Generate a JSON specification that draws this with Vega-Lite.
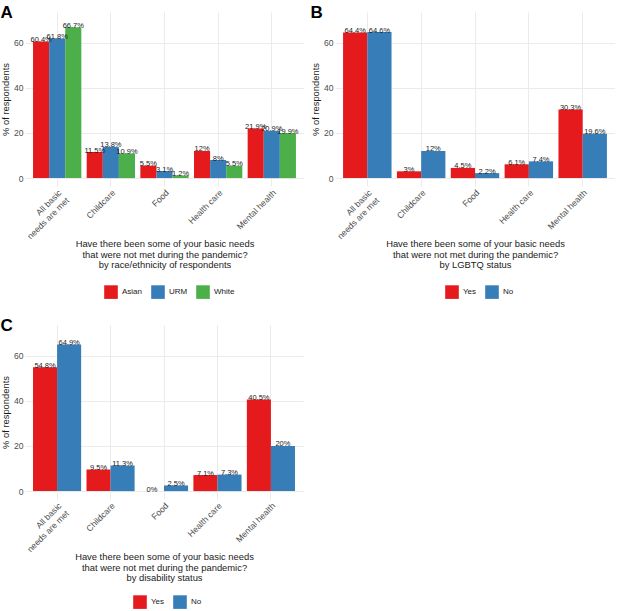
{
  "$schema": "https://vega.github.io/schema/vega-lite/v6.json",
  "description": "Unmet basic needs during the pandemic, by race/ethnicity, LGBTQ status and disability status.",
  "padding": {"top": 4, "left": 0, "right": 0, "bottom": 0},
  "spacing": 18,
  "vconcat": [
    {
      "spacing": 6,
      "hconcat": [
        {
          "title": {"text": "A", "offset": -10},
          "width": 279,
          "height": 174,
          "data": {
            "values": [
              {"need": "All basic needs are met", "group": "Asian", "pct": 60.4},
              {"need": "All basic needs are met", "group": "URM", "pct": 61.8},
              {"need": "All basic needs are met", "group": "White", "pct": 66.7},
              {"need": "Childcare", "group": "Asian", "pct": 11.5},
              {"need": "Childcare", "group": "URM", "pct": 13.8},
              {"need": "Childcare", "group": "White", "pct": 10.9},
              {"need": "Food", "group": "Asian", "pct": 5.5},
              {"need": "Food", "group": "URM", "pct": 3.1},
              {"need": "Food", "group": "White", "pct": 1.2},
              {"need": "Health care", "group": "Asian", "pct": 12},
              {"need": "Health care", "group": "URM", "pct": 8},
              {"need": "Health care", "group": "White", "pct": 5.5},
              {"need": "Mental health", "group": "Asian", "pct": 21.9},
              {"need": "Mental health", "group": "URM", "pct": 20.9},
              {"need": "Mental health", "group": "White", "pct": 19.9}
            ]
          },
          "transform": [{"calculate": "format(datum.pct, '.1~f') + '%'", "as": "label"}],
          "encoding": {
            "x": {
              "field": "need", "type": "nominal",
              "sort": ["All basic needs are met", "Childcare", "Food", "Health care", "Mental health"],
              "scale": {"paddingInner": 0.1, "paddingOuter": 0.15},
              "axis": {"title": ["Have there been some of your basic needs", "that were not met during the pandemic?", "by race/ethnicity of respondents"]}
            },
            "xOffset": {"field": "group", "type": "nominal", "sort": ["Asian", "URM", "White"], "scale": {"paddingInner": 0, "paddingOuter": 0}},
            "y": {
              "field": "pct", "type": "quantitative",
              "scale": {"domain": [-3.5, 73.5], "nice": false, "zero": false},
              "axis": {"title": "% of respondents"}
            }
          },
          "layer": [
            {
              "mark": {"type": "bar"},
              "encoding": {
                "color": {
                  "field": "group", "type": "nominal",
                  "scale": {"domain": ["Asian", "URM", "White"], "range": ["#E41A1C", "#377EB8", "#4DAF4A"]},
                  "legend": {"orient": "none", "legendX": 79, "legendY": 273, "direction": "horizontal", "title": null}
                }
              }
            },
            {
              "mark": {"type": "text", "baseline": "alphabetic", "dy": 0.5, "fontSize": 7.5, "color": "#1A1A1A"},
              "encoding": {"text": {"field": "label", "type": "nominal"}}
            }
          ]
        },
        {
          "title": {"text": "B", "offset": -10},
          "width": 280,
          "height": 174,
          "data": {
            "values": [
              {"need": "All basic needs are met", "group": "Yes", "pct": 64.4},
              {"need": "All basic needs are met", "group": "No", "pct": 64.6},
              {"need": "Childcare", "group": "Yes", "pct": 3},
              {"need": "Childcare", "group": "No", "pct": 12},
              {"need": "Food", "group": "Yes", "pct": 4.5},
              {"need": "Food", "group": "No", "pct": 2.2},
              {"need": "Health care", "group": "Yes", "pct": 6.1},
              {"need": "Health care", "group": "No", "pct": 7.4},
              {"need": "Mental health", "group": "Yes", "pct": 30.3},
              {"need": "Mental health", "group": "No", "pct": 19.6}
            ]
          },
          "transform": [{"calculate": "format(datum.pct, '.1~f') + '%'", "as": "label"}],
          "encoding": {
            "x": {
              "field": "need", "type": "nominal",
              "sort": ["All basic needs are met", "Childcare", "Food", "Health care", "Mental health"],
              "scale": {"paddingInner": 0.1, "paddingOuter": 0.15},
              "axis": {"title": ["Have there been some of your basic needs", "that were not met during the pandemic?", "by LGBTQ status"]}
            },
            "xOffset": {"field": "group", "type": "nominal", "sort": ["Yes", "No"], "scale": {"paddingInner": 0, "paddingOuter": 0}},
            "y": {
              "field": "pct", "type": "quantitative",
              "scale": {"domain": [-3.5, 73.5], "nice": false, "zero": false},
              "axis": {"title": "% of respondents"}
            }
          },
          "layer": [
            {
              "mark": {"type": "bar"},
              "encoding": {
                "color": {
                  "field": "group", "type": "nominal",
                  "scale": {"domain": ["Yes", "No"], "range": ["#E41A1C", "#377EB8"]},
                  "legend": {"orient": "none", "legendX": 110, "legendY": 273, "direction": "horizontal", "title": null}
                }
              }
            },
            {
              "mark": {"type": "text", "baseline": "alphabetic", "dy": 0.5, "fontSize": 7.5, "color": "#1A1A1A"},
              "encoding": {"text": {"field": "label", "type": "nominal"}}
            }
          ]
        }
      ],
      "resolve": {"scale": {"color": "independent", "xOffset": "independent"}, "legend": {"color": "independent"}}
    },
    {
      "title": {"text": "C", "offset": -10},
      "width": 278,
      "height": 174,
      "data": {
        "values": [
          {"need": "All basic needs are met", "group": "Yes", "pct": 54.8},
          {"need": "All basic needs are met", "group": "No", "pct": 64.9},
          {"need": "Childcare", "group": "Yes", "pct": 9.5},
          {"need": "Childcare", "group": "No", "pct": 11.3},
          {"need": "Food", "group": "Yes", "pct": 0},
          {"need": "Food", "group": "No", "pct": 2.5},
          {"need": "Health care", "group": "Yes", "pct": 7.1},
          {"need": "Health care", "group": "No", "pct": 7.3},
          {"need": "Mental health", "group": "Yes", "pct": 40.5},
          {"need": "Mental health", "group": "No", "pct": 20}
        ]
      },
      "transform": [{"calculate": "format(datum.pct, '.1~f') + '%'", "as": "label"}],
      "encoding": {
        "x": {
          "field": "need", "type": "nominal",
          "sort": ["All basic needs are met", "Childcare", "Food", "Health care", "Mental health"],
          "scale": {"paddingInner": 0.1, "paddingOuter": 0.15},
          "axis": {"title": ["Have there been some of your basic needs", "that were not met during the pandemic?", "by disability status"]}
        },
        "xOffset": {"field": "group", "type": "nominal", "sort": ["Yes", "No"], "scale": {"paddingInner": 0, "paddingOuter": 0}},
        "y": {
          "field": "pct", "type": "quantitative",
          "scale": {"domain": [-3.5, 73.5], "nice": false, "zero": false},
          "axis": {"title": "% of respondents"}
        }
      },
      "layer": [
        {
          "mark": {"type": "bar"},
          "encoding": {
            "color": {
              "field": "group", "type": "nominal",
              "scale": {"domain": ["Yes", "No"], "range": ["#E41A1C", "#377EB8"]},
              "legend": {"orient": "none", "legendX": 108, "legendY": 270, "direction": "horizontal", "title": null}
            }
          }
        },
        {
          "mark": {"type": "text", "baseline": "alphabetic", "dy": 0.5, "fontSize": 7.5, "color": "#1A1A1A"},
          "encoding": {"text": {"field": "label", "type": "nominal"}}
        }
      ]
    }
  ],
  "resolve": {"scale": {"color": "independent", "xOffset": "independent"}, "legend": {"color": "independent"}},
  "config": {
    "font": "Liberation Sans",
    "view": {"stroke": null},
    "title": {"fontSize": 17, "fontWeight": "bold", "anchor": "start", "frame": "bounds", "color": "#000000"},
    "axis": {
      "domain": false,
      "ticks": false,
      "labelColor": "#4D4D4D",
      "labelFontSize": 8.6,
      "titleFontSize": 9.4,
      "titleFontWeight": "normal",
      "titleColor": "#1A1A1A",
      "gridColor": "#EBEBEB"
    },
    "axisX": {
      "grid": true,
      "bandPosition": 0.5,
      "labelAngle": -45,
      "labelAlign": "right",
      "labelBaseline": "top",
      "labelPadding": 2,
      "labelExpr": "datum.value == 'All basic needs are met' ? ['All basic', 'needs are met'] : datum.label",
      "titlePadding": -1,
      "titleLineHeight": 10.6
    },
    "axisY": {
      "values": [0, 10, 20, 30, 40, 50, 60, 70],
      "labelExpr": "datum.value % 20 == 0 ? datum.label : ''",
      "gridWidth": {"condition": {"test": "datum.value % 20 == 0", "value": 1}, "value": 0.5},
      "labelPadding": 2,
      "titlePadding": 3
    },
    "legend": {
      "symbolType": "square",
      "symbolSize": 185,
      "symbolStrokeWidth": 0,
      "labelFontSize": 8,
      "labelColor": "#1A1A1A",
      "columnPadding": 8,
      "padding": 0
    }
  }
}
